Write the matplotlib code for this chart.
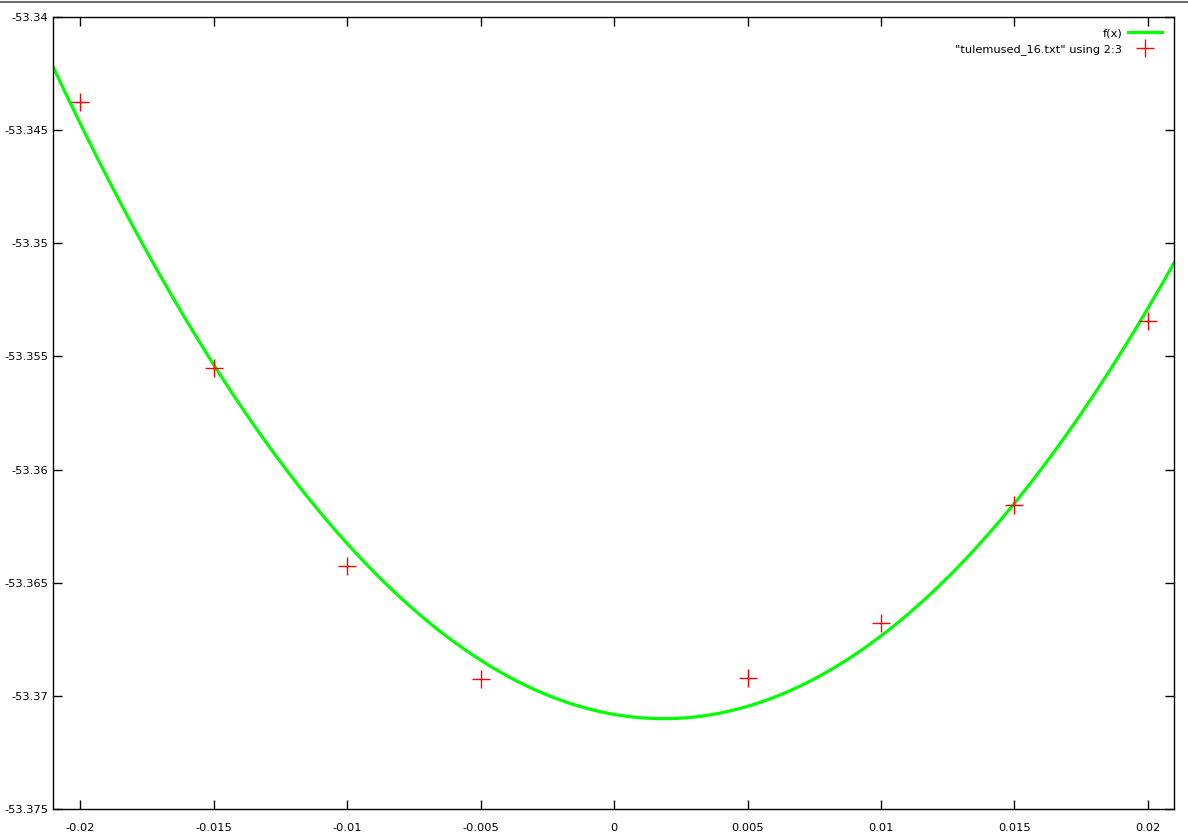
import numpy as np
import matplotlib
matplotlib.use("Agg")
import matplotlib.pyplot as plt

plt.rcParams['axes.unicode_minus'] = False
plt.rcParams['font.family'] = ['DejaVu Sans']

# puntos del archivo "tulemused_16.txt" (columnas 2:3)
x_data = [-0.02, -0.015, -0.01, -0.005, 0.005, 0.01, 0.015, 0.02]
y_data = [-53.34377, -53.35552, -53.36426, -53.36925,
          -53.36921, -53.36679, -53.36157, -53.35344]

# parametros del ajuste f(x) = a*x**2 + b*x + c
fit_a = 55.0
fit_b = -0.2035
fit_c = -53.37081

x_lim = (-0.02103, 0.02098)
y_lim = (-53.375, -53.34)
x_ticks = [-0.02, -0.015, -0.01, -0.005, 0, 0.005, 0.01, 0.015, 0.02]
y_ticks = [-53.34, -53.345, -53.35, -53.355, -53.36, -53.365, -53.37, -53.375]

def f(x):
    return fit_a*x**2 + fit_b*x + fit_c

fig = plt.figure(figsize=(11.88, 8.39), dpi=100)
ax = fig.add_axes([53/1188, 1-809.3/839, (1174-53)/1188, (809.3-16.7)/839])

xs = np.linspace(x_lim[0], x_lim[1], 400)
ax.plot(xs, f(xs), color='#00ff00', lw=2.3, label='f(x)', zorder=2)
ax.plot(x_data, y_data, ls='none', marker='+', ms=13.5, mew=1.0,
        color='#ff0000', label='"tulemused_16.txt" using 2:3', zorder=3)

ax.set_xlim(x_lim)
ax.set_ylim(y_lim)
ax.set_xticks(x_ticks)
ax.set_yticks(y_ticks)
ax.set_xticklabels(['%g' % v for v in x_ticks])
ax.set_yticklabels(['%g' % v for v in y_ticks])
ax.tick_params(direction='in', length=6.5, width=1, top=True, right=True,
               labelsize=8.2, colors='black')
ax.tick_params(axis='x', pad=10)
ax.tick_params(axis='y', pad=3.5)
for s in ax.spines.values():
    s.set_linewidth(1.0)

ax.legend(loc='upper right', bbox_to_anchor=(1162/1188, 1-28/839),
          bbox_transform=fig.transFigure, frameon=False, markerfirst=False,
          fontsize=8.2, handlelength=3.0, handletextpad=0.5,
          labelspacing=0.5, borderaxespad=0, borderpad=0)

# borde gris superior de la ventana
fig.add_artist(plt.Line2D([0, 1], [1-1.5/839, 1-1.5/839], color='#6e6e6e', lw=1.5))

fig.savefig('out.png', dpi=100)
